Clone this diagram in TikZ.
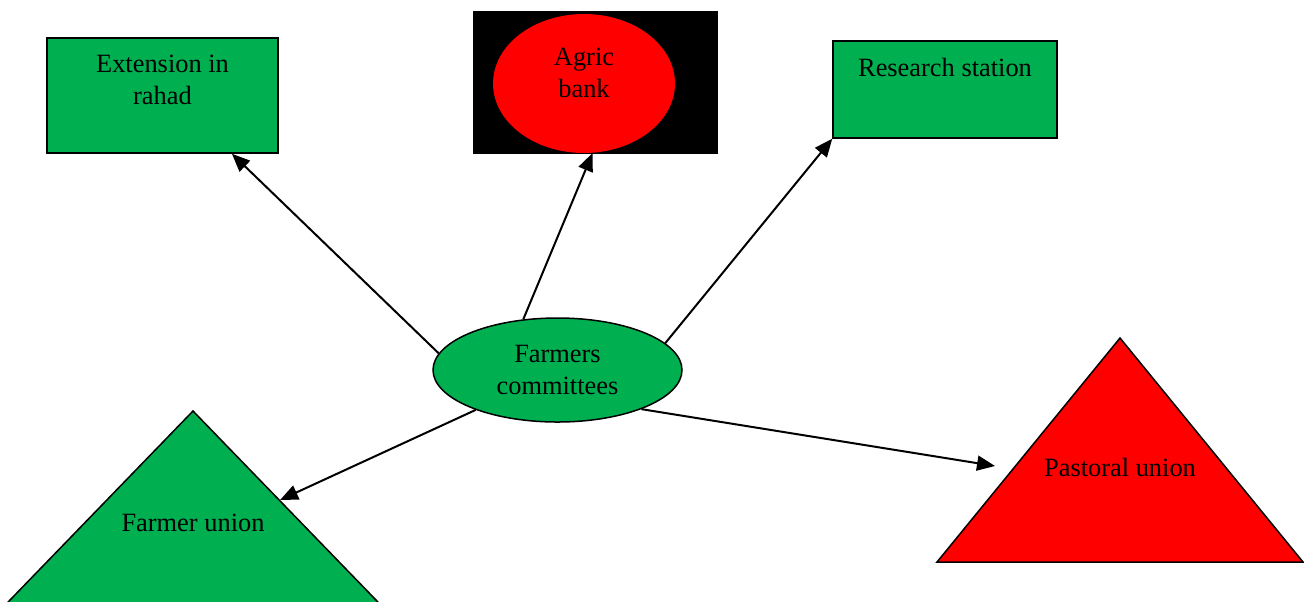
\documentclass[tikz,border=0pt]{standalone}
\usepackage{fontspec}
\setmainfont{Liberation Serif}
\usetikzlibrary{arrows.meta}
\usetikzlibrary{shapes.geometric}
\definecolor{offgreen}{HTML}{00B050}
\definecolor{offred}{HTML}{FF0000}

\tikzset{
 box/.style={draw=black, line width=.75pt, fill=offgreen, inner sep=0pt},
 txt/.style={align=center, inner sep=0pt, font=\fontsize{13.2}{16}\selectfont},
}

\begin{document}
\begin{tikzpicture}[x=.5pt, y=-.5pt]
\clip (0,0) rectangle (1304,601);
% top row
\node[box, minimum width=115.5pt, minimum height=57.5pt, label={[txt, anchor=north, yshift=-8.5pt]north:Extension in\\rahad}] (ext) at (162.5,95.5) {};
\node[fill=black, inner sep=0pt, minimum width=122.5pt, minimum height=71.5pt] (bankbg) at (595.5,82.5) {};
\node[ellipse, fill=offred, inner sep=0pt, minimum width=91pt, minimum height=69.5pt, label={[txt, anchor=north, yshift=-17pt]north:Agric\\bank}] (bank) at (584,83.5) {};
\node[box, minimum width=112pt, minimum height=48.5pt, label={[txt, anchor=north, yshift=-9pt]north:Research station}] (res) at (945,89.5) {};
% centre
\node[box, ellipse, txt, minimum width=124.5pt, minimum height=52pt] (fc) at (557.5,370) {Farmers\\committees};
% unions
\filldraw[fill=offgreen, line width=.75pt] (193,411) -- (390.5,615) -- (-4.5,615) -- cycle;
\node[txt] (fu) at (193,523) {Farmer union};
\filldraw[fill=offred, line width=.75pt] (1120,338) -- (1303,562) -- (937,562) -- cycle;
\node[txt] (pu) at (1120,467) {Pastoral union};
\coordinate (fuin) at (280,500);
\coordinate (puin) at (995,466);

\foreach \a/\b in {172/ext.-40, 124/bank.-83, 14/res.south west, 206/fuin, -25/puin}
 \draw[line width=1pt, -{Triangle[length=9pt,width=7.5pt]}] (fc.\a) -- (\b);

\end{tikzpicture}
\end{document}
